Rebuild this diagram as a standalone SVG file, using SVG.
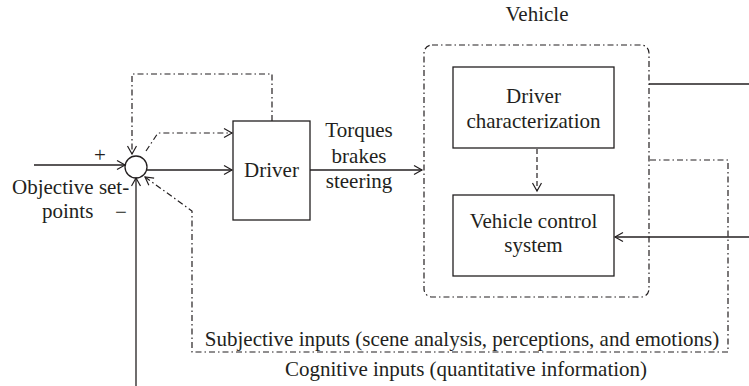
<svg xmlns="http://www.w3.org/2000/svg" width="749" height="386" viewBox="0 0 749 386">
  <style>
    text { font-family: "Liberation Serif", "Times New Roman", serif; font-size: 21px; fill: #231f20; }
    .mid { text-anchor: middle; }
    .box { fill: none; stroke: #231f20; stroke-width: 1.3; }
    .wire { fill: none; stroke: #231f20; stroke-width: 1.3; }
    .dashdot { fill: none; stroke: #231f20; stroke-width: 1.2; stroke-dasharray: 6 3 1.5 3; }
    .dash { fill: none; stroke: #231f20; stroke-width: 1.2; stroke-dasharray: 5 3; }
  </style>
  <defs>
    <marker id="arrow" markerUnits="userSpaceOnUse" markerWidth="12" markerHeight="12" refX="9" refY="5" orient="auto">
      <path d="M1,0.5 L9,5 L1,9.5" fill="none" stroke="#231f20" stroke-width="1.2" stroke-dasharray="none"/>
    </marker>
  </defs>

  <rect width="749" height="386" fill="#ffffff"/>

  <!-- comparator -->
  <g id="summing-junction">
    <circle cx="136" cy="167" r="11" class="box"/>
    <text x="100" y="162" class="mid">+</text>
    <text x="121" y="219" class="mid">−</text>
  </g>

  <!-- set-point label -->
  <g id="setpoints-label">
    <text x="12" y="194">Objective set-</text>
    <text x="42" y="218">points</text>
  </g>

  <!-- driver block -->
  <g id="driver">
    <rect x="233" y="121" width="77" height="99" class="box"/>
    <text x="271.5" y="177" class="mid">Driver</text>
  </g>

  <g id="driver-outputs-label">
    <text x="359" y="137" class="mid">Torques</text>
    <text x="359" y="163" class="mid">brakes</text>
    <text x="359" y="188" class="mid">steering</text>
  </g>

  <!-- vehicle container -->
  <g id="vehicle">
    <rect x="424" y="45" width="225" height="252" rx="8" ry="8" class="dashdot"/>
    <text x="537" y="21" class="mid">Vehicle</text>
  </g>

  <g id="driver-characterization">
    <rect x="453" y="67" width="161" height="81" class="box"/>
    <text x="533.5" y="103" class="mid">Driver</text>
    <text x="533.5" y="128" class="mid">characterization</text>
  </g>

  <g id="vehicle-control-system">
    <rect x="453" y="195" width="161" height="81" class="box"/>
    <text x="533.5" y="228" class="mid">Vehicle control</text>
    <text x="533.5" y="252" class="mid">system</text>
  </g>

  <!-- feedback labels -->
  <g id="subjective-label">
    <text x="462" y="346" class="mid">Subjective inputs (scene analysis, perceptions, and emotions)</text>
  </g>
  <g id="cognitive-label">
    <text x="466" y="376" class="mid">Cognitive inputs (quantitative information)</text>
  </g>

  <!-- connectors -->
  <g id="connectors">
    <!-- set-point into comparator -->
    <line x1="34" y1="165" x2="125" y2="165" class="wire" marker-end="url(#arrow)"/>
    <!-- comparator to driver -->
    <line x1="147" y1="170" x2="232" y2="170" class="wire" marker-end="url(#arrow)"/>
    <!-- quantitative feedback from below -->
    <line x1="136" y1="386" x2="136" y2="178" class="wire" marker-end="url(#arrow)"/>
    <!-- driver self-feedback loop over the top -->
    <path d="M272,121 L272,74 L132,74 L132,154" class="dashdot" marker-end="url(#arrow)"/>
    <!-- comparator to driver, upper dash-dot branch -->
    <path d="M146,151 L158,133 L232,133" class="dashdot" marker-end="url(#arrow)"/>
    <!-- subjective feedback loop -->
    <path d="M650,160 L728,160 L728,352 L192,352 L192,211 L145,177" class="dashdot" marker-end="url(#arrow)"/>
    <!-- driver commands into vehicle -->
    <line x1="310" y1="170" x2="422" y2="170" class="wire" marker-end="url(#arrow)"/>
    <!-- characterization to control system -->
    <line x1="537" y1="149" x2="537" y2="191" class="dash" marker-end="url(#arrow)"/>
    <!-- vehicle output -->
    <line x1="649" y1="84" x2="749" y2="84" class="wire"/>
    <!-- external input to control system -->
    <line x1="749" y1="237" x2="615" y2="237" class="wire" marker-end="url(#arrow)"/>
  </g>
</svg>
